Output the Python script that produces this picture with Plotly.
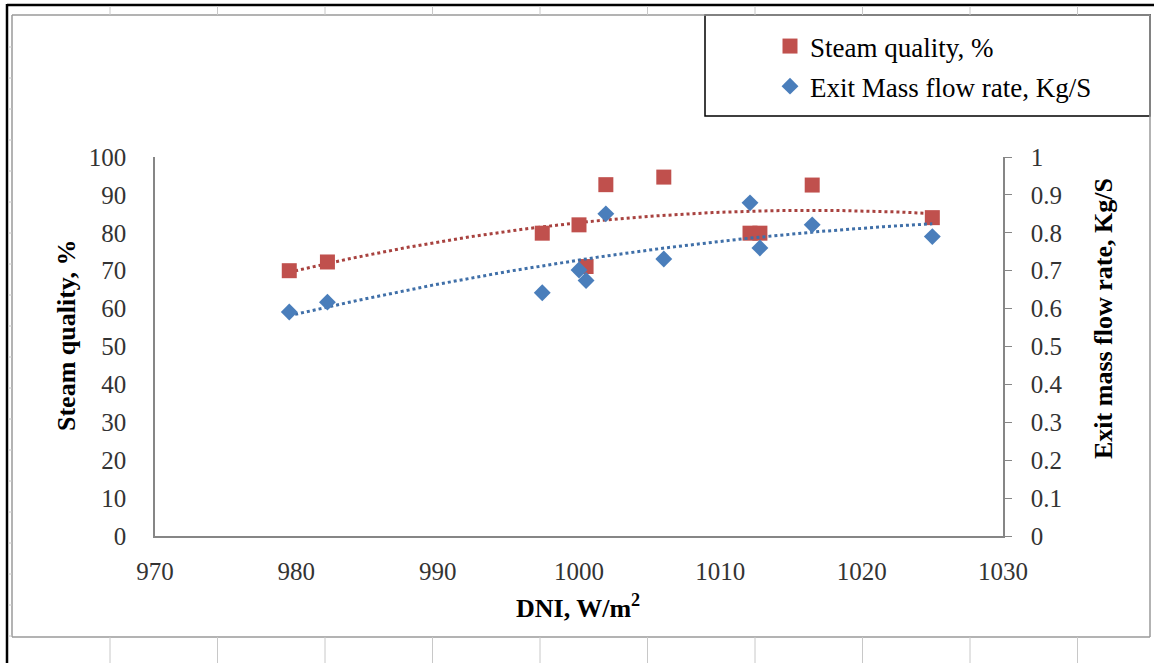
import numpy as np
import plotly.graph_objects as go

# Direct normal irradiance (W/m2) for each test run
dni = [979.5, 982.2, 997.4, 1000.0, 1000.5, 1001.9, 1006.0, 1012.1, 1012.8, 1016.5, 1025.0]
# Steam quality at collector exit (%)
steam_quality = [70.0, 72.3, 79.9, 82.1, 71.1, 92.7, 94.7, 79.9, 79.9, 92.6, 84.0]
# Exit mass flow rate (kg/s)
mass_flow = [0.591, 0.617, 0.642, 0.702, 0.674, 0.850, 0.731, 0.879, 0.760, 0.821, 0.790]

x_ticks = [970, 980, 990, 1000, 1010, 1020, 1030]
q_ticks = list(range(0, 101, 10))
m_ticks = [0, 0.1, 0.2, 0.3, 0.4, 0.5, 0.6, 0.7, 0.8, 0.9, 1]
m_tick_text = ["0", "0.1", "0.2", "0.3", "0.4", "0.5", "0.6", "0.7", "0.8", "0.9", "1"]

RED = "#C0504D"
BLUE = "#4A7EBB"
FONT = "Liberation Serif"

W, H = 1154, 663
L, R, T, B = 155, 1003, 157, 536


def px(x):
    return (x - L) / (R - L)


def py(y):
    return (B - y) / (B - T)


# Second-order polynomial trendlines through each series
xs = np.linspace(min(dni), max(dni), 200)
q_fit = np.polyval(np.polyfit(dni, steam_quality, 2), xs)
m_fit = np.polyval(np.polyfit(dni, mass_flow, 2), xs)

fig = go.Figure()
fig.add_trace(go.Scatter(
    x=xs, y=q_fit, mode="lines", showlegend=False, hoverinfo="skip",
    line=dict(color="#A8423F", width=3, dash="dot"),
))
fig.add_trace(go.Scatter(
    x=xs, y=m_fit, mode="lines", showlegend=False, hoverinfo="skip", yaxis="y2",
    line=dict(color="#3F6FA8", width=3, dash="dot"),
))
fig.add_trace(go.Scatter(
    x=dni, y=steam_quality, mode="markers", name="Steam quality, %",
    legendgroup="a",
    marker=dict(symbol="square", size=15, color=RED),
))
fig.add_trace(go.Scatter(
    x=dni, y=mass_flow, mode="markers", name="Exit Mass flow rate, Kg/S",
    legendgroup="b", yaxis="y2",
    marker=dict(symbol="diamond", size=13, color=BLUE),
))

axis_line = "#868686"
tick_font = dict(family=FONT, size=25, color="#333333")


def seg(x0, y0, x1, y1, color, width):
    return dict(type="line", xref="paper", yref="paper",
                x0=px(x0), x1=px(x1), y0=py(y0), y1=py(y1),
                line=dict(color=color, width=width))


shapes = [
    # chart area frame
    seg(7, 4, 7, 663, "black", 2.5),
    seg(7, 5, 1154, 5, "black", 2.5),
    seg(12, 15, 12, 637, "#9A9A9A", 1.5),
    seg(12, 15, 1150, 15, "#9A9A9A", 1.5),
    seg(1150, 15, 1150, 637, "#9A9A9A", 1.5),
    seg(12, 637, 1150, 637, "#9A9A9A", 1.5),
    # legend box
    dict(type="rect", xref="paper", yref="paper",
         x0=px(705), x1=px(1150), y0=py(15), y1=py(116),
         line=dict(color="black", width=1.5), fillcolor="white", layer="below"),
]
# sheet grid stubs around the chart frame
for cx in np.arange(110, 1154, 107.5):
    shapes.append(seg(cx, 6, cx, 15, "#C8C8C8", 1))
    shapes.append(seg(cx, 637, cx, 663, "#C8C8C8", 1))
for ry in np.arange(47, 637, 31):
    shapes.append(seg(8, ry, 12, ry, "#C8C8C8", 1))

title_font = dict(family=FONT, size=26, color="black")
annotations = [
    dict(text="<b>Steam quality, %</b>", x=px(66), y=py(336), xref="paper", yref="paper",
         xanchor="center", yanchor="middle", textangle=-90, showarrow=False, font=title_font),
    dict(text="<b>Exit mass flow rate, Kg/S</b>", x=px(1103), y=py(319), xref="paper", yref="paper",
         xanchor="center", yanchor="middle", textangle=-90, showarrow=False, font=title_font),
    dict(text="<b>DNI, W/m<sup>2</sup></b>", x=px(578), y=py(606), xref="paper", yref="paper",
         xanchor="center", yanchor="middle", showarrow=False, font=title_font),
]

fig.update_layout(
    width=W, height=H,
    margin=dict(l=L, r=W - R, t=T, b=H - B),
    paper_bgcolor="white", plot_bgcolor="white",
    font=dict(family=FONT, color="black"),
    xaxis=dict(range=[970, 1030], tickvals=x_ticks, showgrid=False, zeroline=False,
               showline=True, linecolor=axis_line, linewidth=1.5, ticks="",
               tickfont=tick_font, ticklabelstandoff=12),
    yaxis=dict(range=[0, 100], tickvals=q_ticks, showgrid=False, zeroline=False,
               showline=True, linecolor=axis_line, linewidth=1.5, ticks="",
               tickfont=tick_font, ticklabelstandoff=22),
    yaxis2=dict(range=[0, 1], tickvals=m_ticks, ticktext=m_tick_text, overlaying="y",
                side="right", showgrid=False, zeroline=False, showline=True,
                linecolor=axis_line, linewidth=1.5, ticks="outside", ticklen=7,
                tickcolor=axis_line, tickfont=tick_font, ticklabelstandoff=14),
    legend=dict(x=px(770), y=py(22), xanchor="left", yanchor="top",
                bgcolor="rgba(0,0,0,0)", font=dict(family=FONT, size=27, color="black"),
                tracegroupgap=2, itemwidth=30),
    shapes=shapes,
    annotations=annotations,
    showlegend=True,
)

fig.write_html("out.html")
